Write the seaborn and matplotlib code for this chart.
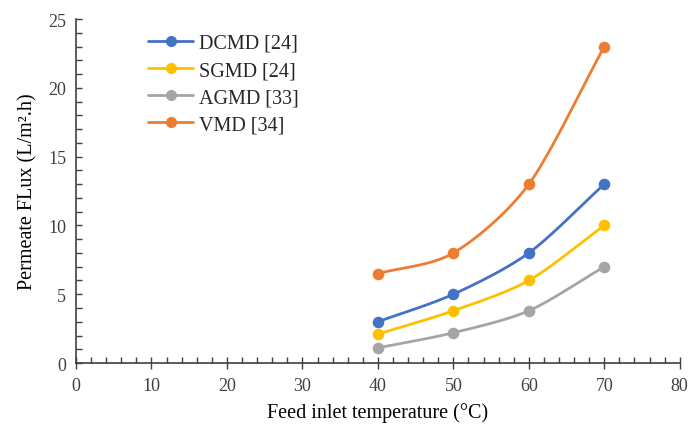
import numpy as np
import pandas as pd
import matplotlib
matplotlib.use("Agg")
import matplotlib.pyplot as plt
from matplotlib.ticker import MultipleLocator
import seaborn as sns

# data
temperature = [40, 50, 60, 70]
dcmd = [3.0, 5.0, 8.0, 13.0]
sgmd = [2.1, 3.8, 6.0, 10.0]
agmd = [1.1, 2.2, 3.8, 7.0]
vmd = [6.5, 8.0, 13.0, 23.0]

series_names = ["DCMD [24]", "SGMD [24]", "AGMD [33]", "VMD [34]"]
series_values = [dcmd, sgmd, agmd, vmd]
colors = ["#4472C4", "#FFC000", "#A5A5A5", "#ED7D31"]

sns.set_style("white")
plt.rcParams["font.family"] = ["Liberation Serif", "DejaVu Serif"]


def smooth(x, y, n=40):
    # catmull-rom style curve (like Excel "smoothed line"), drawing only
    x = np.asarray(x, float)
    y = np.asarray(y, float)
    px = np.concatenate([[2 * x[0] - x[1]], x, [2 * x[-1] - x[-2]]])
    py = np.concatenate([[2 * y[0] - y[1]], y, [2 * y[-1] - y[-2]]])
    xs, ys = [], []
    t = np.linspace(0, 1, n)
    for i in range(1, len(px) - 2):
        for p, out in ((px, xs), (py, ys)):
            p0, p1, p2, p3 = p[i - 1], p[i], p[i + 1], p[i + 2]
            m1 = (p2 - p0) / 2 * 0.85
            m2 = (p3 - p1) / 2 * 0.85
            h00 = 2 * t**3 - 3 * t**2 + 1
            h10 = t**3 - 2 * t**2 + t
            h01 = -2 * t**3 + 3 * t**2
            h11 = t**3 - t**2
            out.extend(h00 * p1 + h10 * m1 + h01 * p2 + h11 * m2)
    return np.array(xs), np.array(ys)


fig = plt.figure(figsize=(6.88, 4.27), dpi=100)
ax = fig.add_axes([0.1105, 0.1475, 0.8775, 0.8055])

for name, vals, col in zip(series_names, series_values, colors):
    sx, sy = smooth(temperature, vals)
    ax.plot(sx, sy, color=col, lw=2)
    df = pd.DataFrame({"T": temperature, "flux": vals})
    sns.scatterplot(data=df, x="T", y="flux", ax=ax, color=col, s=70,
                    edgecolor=col, linewidth=0, zorder=3)
    ax.plot([], [], color=col, lw=2, marker="o", ms=7, label=name)

ax.set_xlim(0, 80)
ax.set_ylim(0, 25)
ax.xaxis.set_major_locator(MultipleLocator(10))
ax.xaxis.set_minor_locator(MultipleLocator(2))
ax.yaxis.set_major_locator(MultipleLocator(5))
ax.yaxis.set_minor_locator(MultipleLocator(1))
ax.tick_params(axis="x", which="major", direction="inout", length=8, width=1,
               bottom=True, labelsize=13, pad=6)
ax.tick_params(axis="x", which="minor", direction="in", length=4, width=1, bottom=True)
ax.tick_params(axis="y", which="major", direction="in", length=4, width=1,
               left=True, labelsize=13, pad=7)
ax.tick_params(axis="y", which="minor", direction="in", length=4, width=1, left=True)
ax.tick_params(which="both", color="#404040", labelcolor="#404040")
for s in ["top", "right"]:
    ax.spines[s].set_visible(False)
for s in ["left", "bottom"]:
    ax.spines[s].set_color("#404040")
    ax.spines[s].set_linewidth(1.2)

ax.set_xlabel("Feed inlet temperature (°C)", fontsize=14.5, color="black", labelpad=6)
ax.set_ylabel("Permeate FLux (L/m².h)", fontsize=14.5, color="black", labelpad=8)

ax.legend(loc="upper left", bbox_to_anchor=(0.09, 1.01), frameon=False,
          fontsize=14.5, handlelength=2.2, labelspacing=0.4, handletextpad=0.3)

fig.savefig("out.png", dpi=100)
